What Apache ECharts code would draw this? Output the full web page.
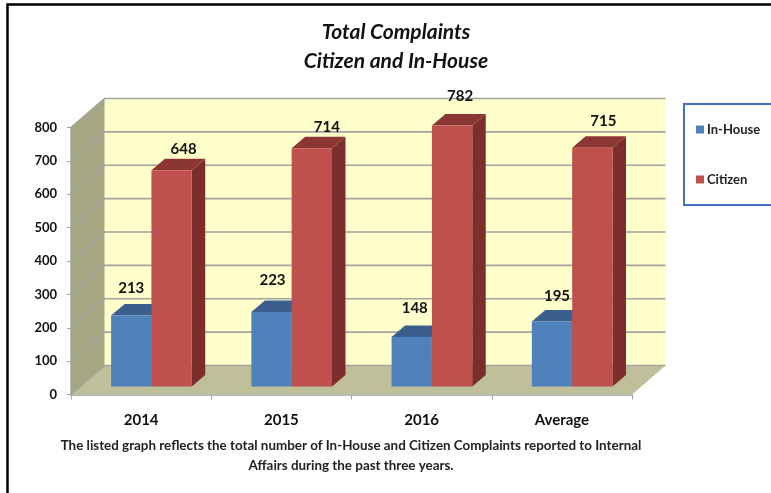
<!DOCTYPE html>
<html>
<head>
<meta charset="utf-8">
<style>html,body{margin:0;padding:0;background:#fff}#c{width:771px;height:493px}</style>
<script src="https://cdn.jsdelivr.net/npm/echarts@6/dist/echarts.min.js"></script>
</head>
<body>
<div id="c"></div>
<script>
const categories = ['2014', '2015', '2016', 'Average'];
const inHouse = [213, 223, 148, 195];
const citizen = [648, 714, 782, 715];
const yTicks = [0, 100, 200, 300, 400, 500, 600, 700, 800];

// hand-placed label nudges seen in the reference, [dx, dy] from the bar's top centre
const inHouseLabelNudge = [[0, -27], [1, -32], [3, -29], [5, -25]];
const citizenLabelNudge = [[12, -21], [15, -21], [8, -29], [11, -27]];

const FONT = 'Lato';
const WALL = { dx: 33.5, dy: 29 };
const BAR = { shiftX: 10.3, shiftY: 8, dx: 13.5, dy: 11.5, widthRatio: 0.2875 };

function pts(a) { return { points: a }; }

function renderWalls(params, api) {
  const band = api.size([1, 0])[0];
  const x0 = api.coord([0, 0])[0] - band / 2;
  const x1 = api.coord([categories.length - 1, 0])[0] + band / 2;
  const y0 = api.coord([0, 0])[1];
  const yT = api.coord([0, 800])[1];
  const d = WALL;
  return {
    type: 'group',
    children: [
      { type: 'polygon', shape: pts([[x0 + d.dx, yT - d.dy], [x1 + d.dx, yT - d.dy], [x1 + d.dx, y0 - d.dy], [x0 + d.dx, y0 - d.dy]]), style: { fill: '#FFFFCC' } },
      { type: 'polygon', shape: pts([[x0, yT], [x0 + d.dx, yT - d.dy], [x0 + d.dx, y0 - d.dy], [x0, y0]]), style: { fill: '#A6A682' } },
      { type: 'polygon', shape: pts([[x0, y0], [x1, y0], [x1 + d.dx, y0 - d.dy], [x0 + d.dx, y0 - d.dy]]), style: { fill: '#BFBF99' } }
    ]
  };
}

function renderGrid(params, api) {
  const band = api.size([1, 0])[0];
  const x0 = api.coord([0, 0])[0] - band / 2;
  const x1 = api.coord([categories.length - 1, 0])[0] + band / 2;
  const y = api.coord([0, api.value(0)])[1];
  const d = WALL;
  const line = { stroke: '#A3A3A0', lineWidth: 1.6, fill: null };
  return {
    type: 'group',
    children: [
      { type: 'polyline', shape: pts([[x0, y], [x0 + d.dx, y - d.dy], [x1 + d.dx, y - d.dy]]), style: line }
    ]
  };
}

function barRenderer(seriesIndex, front, side, top, nudges) {
  return function (params, api) {
    const band = api.size([1, 0])[0];
    const w = band * BAR.widthRatio;
    const c = api.coord([api.value(0), api.value(1)]);
    const base = api.coord([api.value(0), 0]);
    const xL = c[0] + BAR.shiftX - (seriesIndex === 0 ? w : 0);
    const xR = xL + w;
    const yT = c[1] - BAR.shiftY;
    const yB = base[1] - BAR.shiftY;
    const n = nudges[params.dataIndex];
    return {
      type: 'group',
      children: [
        { type: 'polygon', shape: pts([[xR, yT], [xR + BAR.dx, yT - BAR.dy], [xR + BAR.dx, yB - BAR.dy], [xR, yB]]), style: { fill: side } },
        { type: 'polygon', shape: pts([[xL, yT], [xL + BAR.dx, yT - BAR.dy], [xR + BAR.dx, yT - BAR.dy], [xR, yT]]), style: { fill: top } },
        { type: 'rect', shape: { x: xL, y: yT, width: w, height: yB - yT }, style: { fill: front } },
        { type: 'text', z2: 50, style: { x: (xL + xR) / 2 + n[0], y: yT + n[1], text: String(api.value(1)), align: 'center', verticalAlign: 'middle', fill: '#111', font: 'bold 15px ' + FONT } }
      ]
    };
  };
}

const chart = echarts.init(document.getElementById('c'), null, { renderer: 'canvas' });
chart.setOption({
  animation: false,
  backgroundColor: '#fff',
  title: [
    { text: 'Total Complaints\nCitizen and In-House', left: 391, top: 13, textAlign: 'center',
      textStyle: { fontFamily: FONT, fontSize: 21, fontWeight: 'bold', fontStyle: 'italic', color: '#111', lineHeight: 29 } },
    { text: 'The listed graph reflects the total number of In-House and Citizen Complaints reported to Internal\nAffairs during the past three years.',
      left: 346, top: 431, textAlign: 'center',
      textStyle: { fontFamily: FONT, fontSize: 13.4, fontWeight: 'bold', color: '#222', lineHeight: 20 } }
  ],
  grid: { left: 71, right: 139, top: 127.5, bottom: 98.5, containLabel: false },
  legend: {
    data: ['In-House', 'Citizen'],
    orient: 'vertical',
    left: 684,
    top: 104,
    padding: [19, 30, 19, 12],
    itemWidth: 8, itemHeight: 8, itemGap: 37,
    icon: 'rect',
    backgroundColor: '#fff',
    borderColor: '#4472B8', borderWidth: 2,
    textStyle: { fontFamily: FONT, fontSize: 13, fontWeight: 'bold', color: '#222', padding: [0, 0, 0, -2] }
  },
  xAxis: {
    type: 'category', data: categories,
    axisLine: { lineStyle: { color: '#A3A3A0', width: 1.5 } },
    axisTick: { show: true, alignWithLabel: false, length: 5, lineStyle: { color: '#A3A3A0' } },
    axisLabel: { fontFamily: FONT, fontSize: 15, fontWeight: 'bold', color: '#111', margin: 18 }
  },
  yAxis: {
    type: 'value', min: 0, max: 800, interval: 100,
    splitLine: { show: false },
    axisLine: { show: true, lineStyle: { color: '#A3A3A0', width: 1.5 } },
    axisTick: { show: true, length: 4, lineStyle: { color: '#A3A3A0' } },
    axisLabel: { fontFamily: FONT, fontSize: 13, fontWeight: 'bold', color: '#111', margin: 14 }
  },
  series: [
    { type: 'custom', name: 'walls', silent: true, clip: false, z: 1, data: [[0]], renderItem: renderWalls, encode: { x: [], y: [] } },
    { type: 'custom', name: 'grid', silent: true, clip: false, z: 2, data: yTicks.map(v => [v]), renderItem: renderGrid, encode: { x: [], y: [] } },
    { type: 'custom', name: 'In-House', clip: false, z: 3, itemStyle: { color: '#4F81BD' },
      data: inHouse.map((v, i) => [i, v]), encode: { x: 0, y: 1 },
      renderItem: barRenderer(0, '#4F81BD', '#3A5F8E', '#3A5F8E', inHouseLabelNudge) },
    { type: 'custom', name: 'Citizen', clip: false, z: 4, itemStyle: { color: '#C0504D' },
      data: citizen.map((v, i) => [i, v]), encode: { x: 0, y: 1 },
      renderItem: barRenderer(1, '#C0504D', '#7D2E2C', '#8C3634', citizenLabelNudge) }
  ],
  graphic: [
    { type: 'polyline', silent: true, z: 100, shape: { points: [[7.5, 493], [7.5, 4.5], [771, 4.5]] }, style: { stroke: '#000', lineWidth: 2.5, fill: null } }
  ]
});
</script>
</body>
</html>
